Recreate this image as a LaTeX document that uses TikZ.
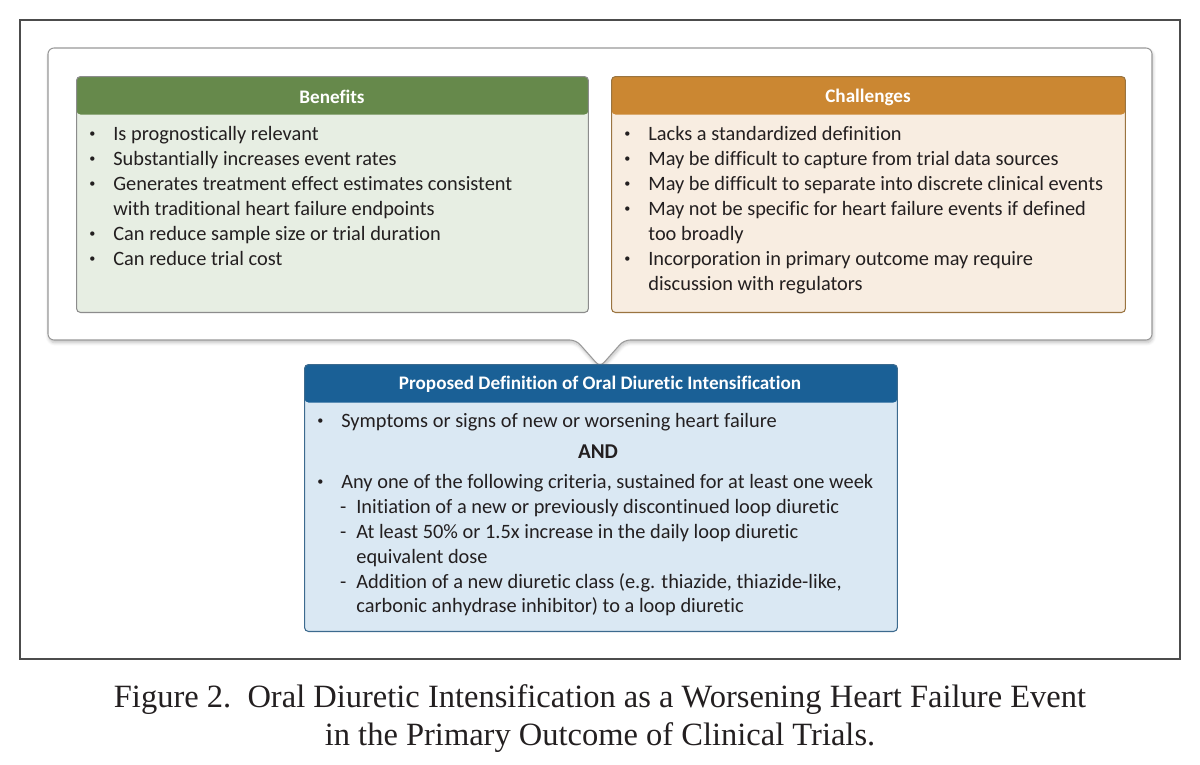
\documentclass[tikz,border=0pt]{standalone}
\usepackage{fontspec}
\setmainfont{Liberation Serif}
\newfontfamily\cardfont[Ligatures=NoCommon]{Carlito}
\usetikzlibrary{shadows.blur}

\definecolor{ink}{HTML}{231F20}
\definecolor{benhead}{HTML}{66894B}
\definecolor{benbody}{HTML}{E7EEE3}
\definecolor{chalhead}{HTML}{CB8732}
\definecolor{chalbody}{HTML}{F8EDE1}
\definecolor{challine}{HTML}{9A7440}
\definecolor{defhead}{HTML}{1A6096}
\definecolor{defbody}{HTML}{DAE8F3}
\definecolor{defline}{HTML}{3C6A8E}

\newcommand\bul{\llap{\raisebox{0.25ex}{\scalebox{0.6}{\textbullet}}\hspace{3.6mm}}}
\newcommand\dsh{\llap{-\hspace{2mm}}}

\tikzset{
  frame/.style={draw=black!70, line width=1.1pt},
  bubble/.style={draw=black!40, fill=white, line width=0.6pt, rounded corners=0.12cm,
    blur shadow={shadow xshift=0.5pt, shadow yshift=-1.5pt, shadow blur steps=6, shadow opacity=25}},
  card/.style={draw=#1, line width=0.6pt, rounded corners=0.08cm, inner sep=0, anchor=north west},
  cardhead/.style={path picture={\fill[#1] (path picture bounding box.north west)
    rectangle ([yshift=-0.76cm]path picture bounding box.north east);}},
  head/.style={text=white, font=\cardfont\bfseries\fontsize{10.9}{14}\selectfont},
  txt/.style={anchor=base west, inner sep=0, text=ink, font=\cardfont\fontsize{11.6}{14}\selectfont},
  caption/.style={text=ink, font=\fontsize{18.5}{22}\selectfont}
}

\begin{document}
\begin{tikzpicture}[x=0.02cm, y=-0.02cm]
	\useasboundingbox (0,0) rectangle (1200,764);
	\draw[frame] (20,20) rectangle (1180,659);
	% speech bubble
	\draw[bubble] (48,48) -- (1152,48) -- (1152,340) -- (624,340) -- (600,367) -- (576,340) -- (48,340) -- cycle;

	% benefits
	\node (benefits) at (76,76) [card=black!45, fill=benbody, cardhead=benhead, minimum width=10.24cm, minimum height=4.72cm] {};
	\node (benhd) at (332,97) [head] {Benefits};
	\node (ben1) at (113,140) [txt] {\bul Is prognostically relevant};
	\node (ben2) at (113,165) [txt] {\bul Substantially increases event rates};
	\node (ben3) at (113,190) [txt] {\bul Generates treatment effect estimates consistent};
	\node (ben4) at (113,215) [txt] {with traditional heart failure endpoints};
	\node (ben5) at (113,240) [txt] {\bul Can reduce sample size or trial duration};
	\node (ben6) at (113,265) [txt] {\bul Can reduce trial cost};

	% challenges
	\node (chal) at (611,76) [card=challine, fill=chalbody, cardhead=chalhead, minimum width=10.28cm, minimum height=4.72cm] {};
	\node (chalhd) at (868,97) [head] {Challenges};
	\node (chal1) at (648,140) [txt] {\bul Lacks a standardized definition};
	\node (chal2) at (648,165) [txt] {\bul May be difficult to capture from trial data sources};
	\node (chal3) at (648,190) [txt] {\bul May be difficult to separate into discrete clinical events};
	\node (chal4) at (648,215) [txt] {\bul May not be specific for heart failure events if defined};
	\node (chal5) at (648,240) [txt] {too broadly};
	\node (chal6) at (648,265) [txt] {\bul Incorporation in primary outcome may require};
	\node (chal7) at (648,290) [txt] {discussion with regulators};

	% proposed definition
	\node (defn) at (304,364) [card=defline, fill=defbody, cardhead=defhead, minimum width=11.86cm, minimum height=5.34cm] {};
	\node (defhd) at (600,384) [head] {Proposed Definition of Oral Diuretic Intensification};
	\node (def1) at (341,427) [txt] {\bul Symptoms or signs of new or worsening heart failure};
	\node (defand) at (598,458) [txt, anchor=base, font=\cardfont\bfseries\fontsize{12}{14}\selectfont] {AND};
	\node (def2) at (341,488) [txt] {\bul Any one of the following criteria, sustained for at least one week};
	\node (def3) at (356,513) [txt] {\dsh Initiation of a new or previously discontinued loop diuretic};
	\node (def4) at (356,538) [txt] {\dsh At least 50\% or 1.5x increase in the daily loop diuretic};
	\node (def5) at (356,563) [txt] {equivalent dose};
	\node (def6) at (356,588) [txt] {\dsh Addition of a new diuretic class (e.g. thiazide, thiazide-like,};
	\node (def7) at (356,612) [txt] {carbonic anhydrase inhibitor) to a loop diuretic};

	% caption
	\node (cap1) at (600,707) [caption, anchor=base] {Figure 2.\ \ Oral Diuretic Intensification as a Worsening Heart Failure Event};
	\node (cap2) at (600,745) [caption, anchor=base] {in the Primary Outcome of Clinical Trials.};
\end{tikzpicture}
\end{document}
